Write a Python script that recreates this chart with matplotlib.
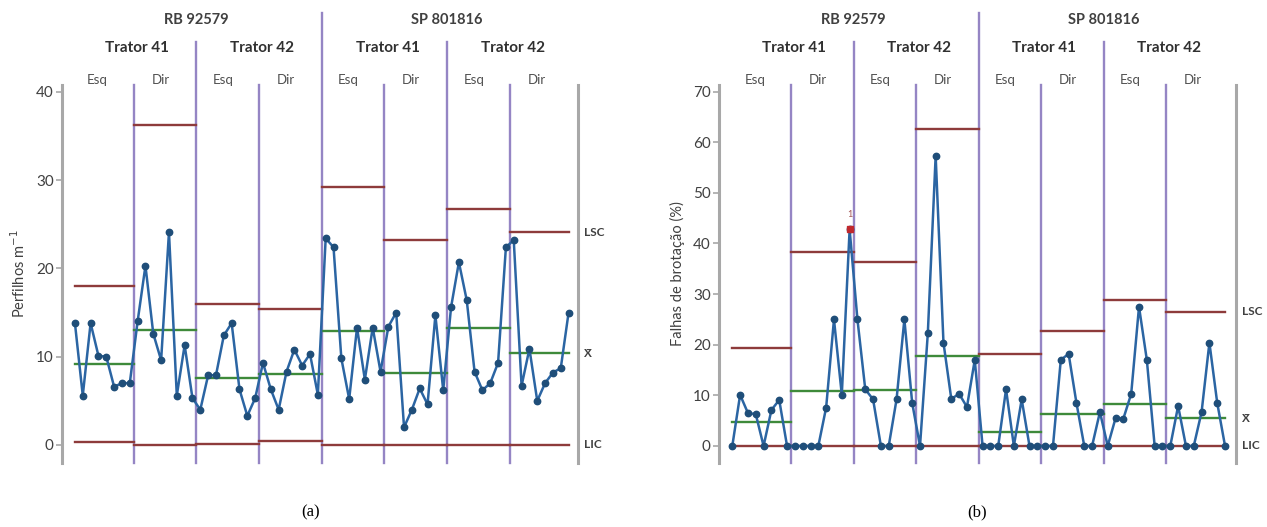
import numpy as np
import matplotlib
matplotlib.use("Agg")
import matplotlib.pyplot as plt

# Perfilhos m-1 (a), 8 groups x 8 points
tiller = [
    13.8, 5.6, 13.8, 10.1, 10.0, 6.6, 7.0, 7.0,
    14.0, 20.3, 12.6, 9.6, 24.1, 5.6, 11.3, 5.3,
    4.0, 7.9, 7.9, 12.4, 13.8, 6.3, 3.3, 5.3,
    9.3, 6.3, 4.0, 8.3, 10.8, 9.0, 10.3, 5.7,
    23.4, 22.4, 9.8, 5.2, 13.3, 7.4, 13.3, 8.3,
    13.4, 15.0, 2.0, 4.0, 6.4, 4.6, 14.7, 6.2,
    15.6, 20.7, 16.4, 8.3, 6.2, 7.0, 9.3, 22.4,
    23.2, 6.7, 10.9, 5.0, 7.0, 8.2, 8.7, 15.0,
]
tiller_mean = [9.2, 13.0, 7.6, 8.0, 12.9, 8.2, 13.3, 10.4]
tiller_lsc = [18.0, 36.2, 16.0, 15.4, 29.2, 23.2, 26.7, 24.1]
tiller_lic = [0.3, 0.0, 0.1, 0.5, 0.0, 0.0, 0.0, 0.0]

# Falhas de brotação (%) (b)
fail = [
    0, 10.1, 6.5, 6.3, 0, 7.1, 9.1, 0,
    0, 0, 0, 0, 7.6, 25.0, 10.1, 42.8,
    25.0, 11.2, 9.2, 0, 0, 9.2, 25.0, 8.5,
    0, 22.3, 57.3, 20.4, 9.3, 10.3, 7.7, 17.0,
    0, 0, 0, 11.2, 0, 9.2, 0, 0,
    0, 0, 17.0, 18.2, 8.5, 0, 0, 6.7,
    0, 5.5, 5.4, 10.3, 27.5, 17.0, 0, 0,
    0, 7.9, 0, 0, 6.7, 20.4, 8.5, 0,
]
fail_mean = [4.8, 10.9, 11.0, 17.7, 2.7, 6.3, 8.2, 5.5]
fail_lsc = [19.3, 38.4, 36.4, 62.6, 18.2, 22.7, 28.9, 26.5]
fail_lic = [0, 0, 0, 0, 0, 0, 0, 0]
fail_out = [15]  # point flagged by test 1

varieties = ["RB 92579", "SP 801816"]
tractors = ["Trator 41", "Trator 42"]
sides = ["Esq", "Dir"]

C_LINE = "#2B65A3"
C_MARK = "#1F4E79"
C_VLINE = "#9585C4"
C_LSC = "#8E3B3B"
C_MEAN = "#3E8A3A"
C_AXIS = "#A8A8A8"

FONT = ["Lato", "DejaVu Sans"]

fig = plt.figure(figsize=(12.67, 5.27), dpi=100)
bottom = 1 - 463 / 527
height = (463 - 85) / 527
ax1 = fig.add_axes([62 / 1267, bottom, 516 / 1267, height])
ax2 = fig.add_axes([719 / 1267, bottom, 517 / 1267, height])


def draw(ax, vals, means, lsc, lic, ylim, yticks, ylabel, xlim):
    n = len(vals)
    x = np.arange(n)
    ax.set_xlim(*xlim)
    ax.set_ylim(*ylim)
    tr = ax.get_xaxis_transform()
    # group boundaries
    for k in range(1, 8):
        b = 8 * k - 0.5
        top = 1.0
        if k % 2 == 0:
            top = 1.114
        if k == 4:
            top = 1.19
        ax.plot([b, b], [0, top], transform=tr, color=C_VLINE, lw=1.7,
                clip_on=False, zorder=1)
    # control lines
    for k in range(8):
        x0 = max(0, 8 * k - 0.5)
        x1 = min(n - 1, 8 * k + 7.5)
        ax.plot([x0, x1], [lsc[k], lsc[k]], color=C_LSC, lw=1.7, zorder=2)
        ax.plot([x0, x1], [lic[k], lic[k]], color=C_LSC, lw=1.7, zorder=2)
        ax.plot([x0, x1], [means[k], means[k]], color=C_MEAN, lw=1.7, zorder=2)
    ax.plot(x, vals, color=C_LINE, lw=1.8, marker="o", ms=4.6,
            mfc=C_MARK, mec=C_MARK, zorder=3)
    # headers
    for i, v in enumerate(varieties):
        ax.text(16 * (2 * i + 1) - 0.5, 1.172, v, transform=tr, ha="center",
                va="center", fontsize=10.5, fontweight="bold", family=FONT,
                color="#404040")
    for j in range(4):
        ax.text(8 * (2 * j + 1) - 0.5 + 0.4, 1.098, tractors[j % 2],
                transform=tr, ha="center", va="center", fontsize=11,
                fontweight="bold", family=FONT, color="#303030")
    for s in range(8):
        ax.text(8 * s + 3.5 - 0.6, 1.013, sides[s % 2], transform=tr,
                ha="center", va="center", fontsize=9.5, family=FONT,
                color="#505050")
    # right-hand labels
    for lab, yv in [("LSC", lsc[-1]), ("X\u0304", means[-1]), ("LIC", lic[-1])]:
        ax.text(1.012, yv, lab, transform=ax.get_yaxis_transform(),
                ha="left", va="center", fontsize=8.5, fontweight="bold",
                family=FONT, color="#404040")
    ax.set_yticks(yticks)
    ax.set_xticks([])
    for sp in ["top", "bottom"]:
        ax.spines[sp].set_visible(False)
    for sp in ["left", "right"]:
        ax.spines[sp].set_color(C_AXIS)
        ax.spines[sp].set_linewidth(2.2)
    ax.tick_params(axis="y", colors=C_AXIS, length=4, width=1.2,
                   labelcolor="#404040", labelsize=11, pad=2)
    for t in ax.get_yticklabels():
        t.set_family(FONT)
    ax.set_ylabel(ylabel, fontsize=10.5, family=FONT, color="#404040",
                  labelpad=6)


draw(ax1, tiller, tiller_mean, tiller_lsc, tiller_lic, (-2.04, 40.77),
     [0, 10, 20, 30, 40], "Perfilhos m$^{-1}$", (-1.65, 64.2))
draw(ax2, fail, fail_mean, fail_lsc, fail_lic, (-3.36, 71.3),
     [0, 10, 20, 30, 40, 50, 60, 70], "Falhas de brotação (%)", (-1.7, 64.4))

# out-of-control point
for i in fail_out:
    ax2.plot(i, fail[i], marker="s", ms=5, color="#C0282D", zorder=4)
    ax2.text(i, fail[i] + 2.0, "1", ha="center", va="bottom", fontsize=6.5,
             color="#A05050", family=FONT)

fig.text(311 / 1267, 1 - 512 / 527, "(a)", ha="center", va="center",
         fontsize=12, family="Liberation Serif")
fig.text(977 / 1267, 1 - 512 / 527, "(b)", ha="center", va="center",
         fontsize=12, family="Liberation Serif")

fig.savefig("out.png", dpi=100, facecolor="white")
